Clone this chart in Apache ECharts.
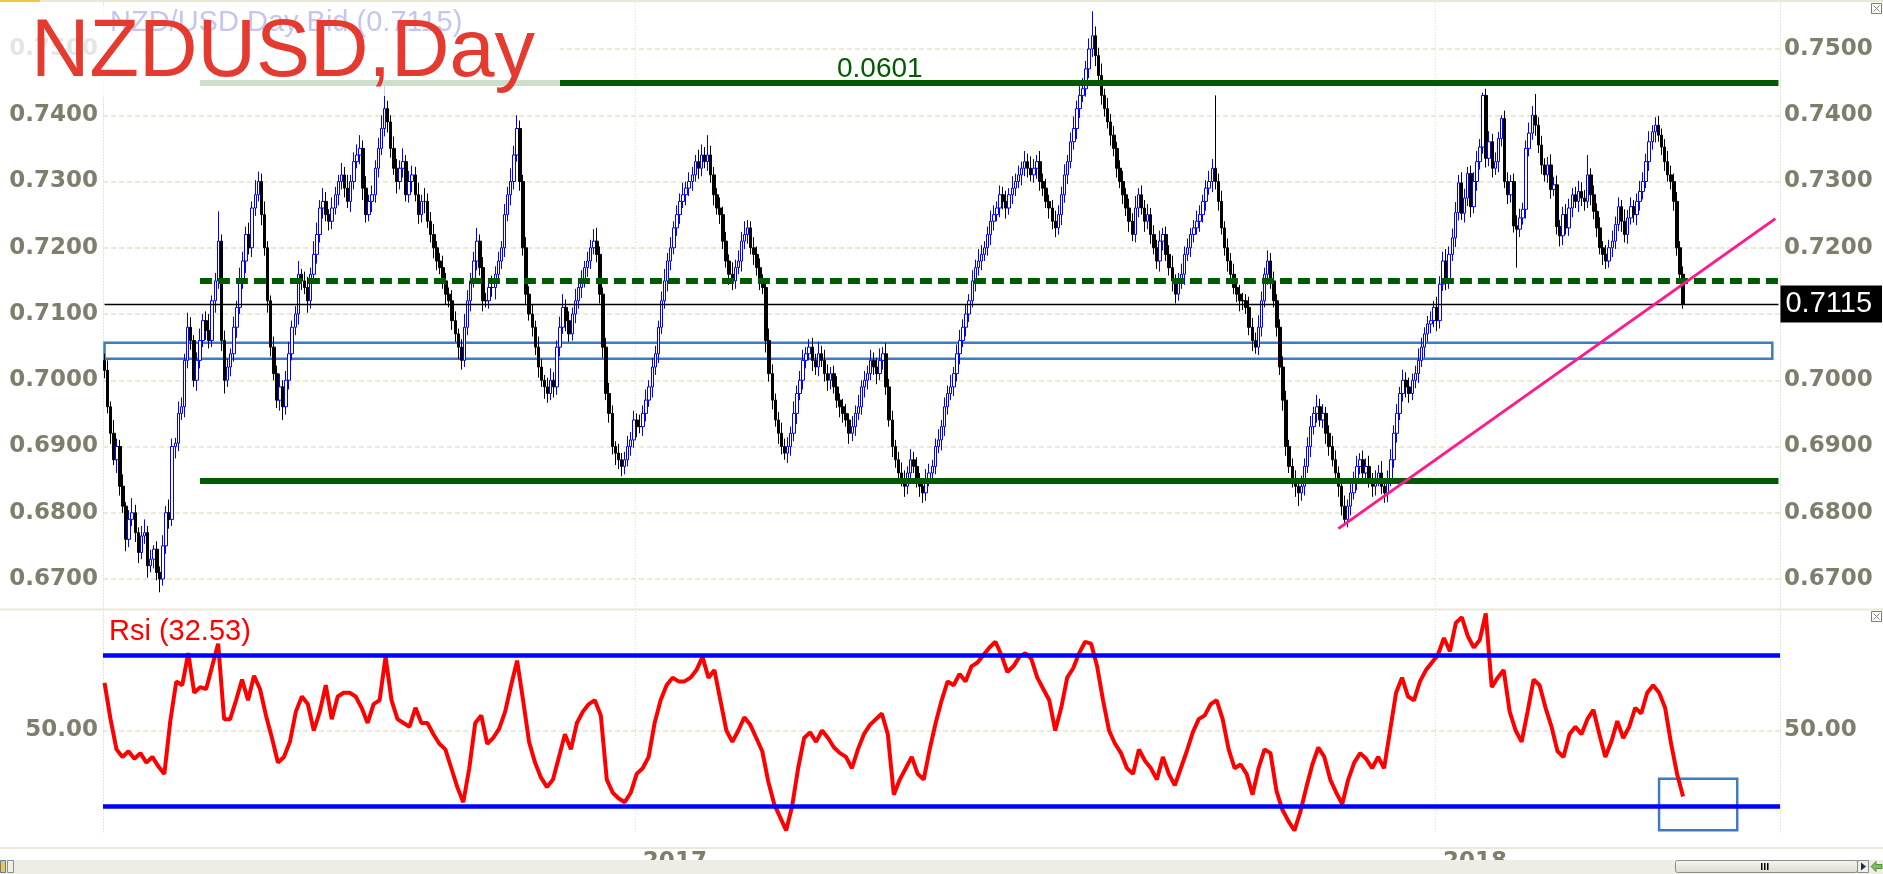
<!DOCTYPE html>
<html><head><meta charset="utf-8">
<script src="https://cdn.jsdelivr.net/npm/echarts@6/dist/echarts.min.js"></script>
<style>html,body{margin:0;padding:0;background:#fff;}#c{width:1883px;height:874px;}</style>
</head><body><div id="c"></div>
<script>
// Daily closes in pips (price x 10000)
const closes = [
7015,6960,6920,6880,6900,6840,6810,6760,6790,6800,
6770,6740,6765,6770,6720,6730,6745,6710,6700,6750,
6800,6790,6900,6905,6950,6960,7030,7080,7060,7000,
7030,7060,7090,7075,7060,7120,7150,7210,7060,7000,
7020,7040,7080,7110,7150,7180,7220,7200,7260,7280,
7300,7250,7200,7120,7050,7010,6970,6990,6960,7000,
7040,7080,7100,7160,7150,7140,7120,7160,7190,7220,
7260,7270,7250,7240,7260,7280,7300,7310,7290,7270,
7300,7330,7340,7350,7290,7250,7270,7280,7320,7350,
7380,7410,7390,7350,7320,7300,7320,7330,7280,7300,
7310,7280,7250,7270,7270,7240,7220,7200,7180,7170,
7150,7130,7120,7090,7070,7050,7030,7080,7120,7150,
7180,7210,7170,7120,7120,7140,7140,7160,7180,7200,
7250,7280,7300,7340,7380,7300,7200,7130,7100,7080,
7050,7020,7000,6990,6980,7000,6990,7050,7080,7110,
7090,7070,7100,7120,7140,7150,7170,7180,7200,7210,
7190,7130,7050,6980,6950,6900,6890,6880,6870,6880,
6900,6910,6940,6930,6930,6950,6970,6990,7020,7040,
7080,7120,7150,7180,7200,7230,7250,7270,7280,7290,
7300,7310,7330,7320,7340,7330,7340,7310,7280,7260,
7250,7210,7180,7160,7150,7170,7180,7210,7220,7230,
7200,7190,7170,7150,7140,7060,7010,6970,6940,6920,
6900,6890,6900,6920,6950,6980,7000,7030,7040,7050,
7030,7020,7040,7030,7010,7000,7010,6990,6970,6960,
6950,6940,6920,6930,6950,6960,6990,7000,7010,7030,
7020,7010,7030,7040,6990,6940,6900,6880,6860,6850,
6840,6860,6880,6870,6850,6840,6830,6850,6860,6870,
6900,6910,6930,6960,6980,6990,7010,7040,7060,7080,
7100,7120,7150,7170,7180,7190,7200,7220,7240,7250,
7260,7280,7270,7260,7280,7290,7300,7310,7320,7330,
7320,7310,7320,7330,7300,7290,7270,7260,7240,7230,
7250,7280,7310,7330,7360,7380,7410,7430,7440,7470,
7500,7520,7490,7460,7430,7410,7390,7370,7350,7320,
7300,7280,7260,7240,7220,7260,7280,7260,7240,7250,
7220,7200,7180,7210,7220,7190,7170,7150,7130,7150,
7160,7190,7200,7220,7230,7240,7250,7270,7290,7300,
7320,7300,7270,7230,7200,7180,7160,7140,7130,7120,
7120,7110,7080,7060,7050,7080,7120,7160,7180,7150,
7120,7080,7020,6970,6900,6870,6850,6840,6830,6840,
6870,6900,6930,6950,6960,6940,6950,6920,6900,6880,
6860,6840,6810,6790,6810,6830,6850,6870,6880,6860,
6870,6850,6840,6850,6860,6840,6830,6850,6880,6920,
6950,6980,7000,6990,6980,7000,7010,7030,7050,7070,
7085,7090,7110,7090,7145,7180,7150,7190,7215,7253,
7298,7252,7275,7312,7262,7300,7330,7352,7430,7335,
7360,7320,7330,7365,7395,7300,7280,7300,7233,7228,
7245,7258,7350,7373,7400,7385,7355,7325,7310,7325,
7288,7295,7232,7218,7250,7230,7260,7280,7270,7285,
7275,7270,7310,7280,7255,7230,7200,7190,7180,7200,
7210,7235,7262,7240,7220,7245,7262,7250,7270,7285,
7300,7330,7360,7375,7385,7370,7352,7330,7310,7300,
7270,7200,7160,7115
];
const firstOpen = 7030;
// upper / lower wick lengths in pips
const wickUp = [
10,15,8,20,12,10,18,6,14,22, 12,8,15,20,10,14,6,12,9,16, 10,20,12,8,18,14,10,22,15,8,
12,18,10,14,25,8,12,45,10,15, 12,8,16,10,20,14,12,18,10,22, 15,12,20,10,8,16,12,20,10,14,
18,10,12,20,8,14,16,10,20,18, 12,20,14,8,16,12,10,18,12,20, 10,14,16,20,12,18,10,14,12,16,
20,35,12,10,18,14,12,20,10,16, 14,12,18,10,20,12,14,16,10,12, 18,12,10,16,14,8,12,20,16,12,
14,20,10,16,12,8,18,12,14,10, 16,12,20,14,20,12,10,16,12,14, 10,16,12,8,14,18,12,10,16,20,
12,14,10,18,12,16,10,14,12,18, 20,12,10,14,16,12,8,14,10,12, 16,12,14,10,18,12,16,10,14,12,
10,14,18,12,16,10,14,12,18,10, 14,12,10,18,16,12,30,14,12,10, 16,12,14,10,18,12,16,14,20,12,
10,16,12,14,10,12,18,14,10,12, 16,12,14,10,18,12,14,16,10,12, 14,10,18,12,16,14,10,12,16,10,
12,14,10,16,12,18,10,14,12,16, 12,14,18,10,16,12,14,10,12,16, 14,10,16,12,14,10,12,16,14,10,
12,16,10,14,12,18,10,14,16,12, 14,10,16,12,18,14,10,12,16,14, 10,14,12,16,10,18,12,14,10,16,
12,18,14,10,16,12,14,10,12,16, 14,12,16,10,14,18,12,14,16,12, 16,37,14,12,18,10,16,12,14,10,
12,16,10,14,12,18,10,14,12,16, 10,14,12,16,10,12,14,18,10,12, 16,12,14,10,12,16,14,10,12,16,
14,110,12,16,10,14,12,16,10,14, 12,10,16,14,12,18,14,10,16,12, 14,10,12,16,14,10,12,14,10,16,
12,14,16,10,18,12,14,10,12,16, 14,10,12,16,10,14,12,16,10,14, 12,16,10,14,12,18,10,14,16,12,
14,10,16,12,14,10,12,18,14,10, 12,14,10,16,12,14,18,12,14,16, 12,16,14,10,12,14,16,12,4,10,
16,12,14,10,5,12,14,10,12,16, 14,10,12,16,14,32,12,14,10,12, 16,12,14,10,12,16,14,10,12,16,
14,12,30,10,14,12,16,10,14,12, 16,12,14,10,18,12,14,10,12,16, 14,12,16,10,12,14,10,12,16,14,
12,14,10,12
];
const wickDn = [
12,10,16,8,20,14,10,18,12,10, 14,16,10,12,18,10,14,12,20,10, 12,14,10,18,12,10,16,12,14,10,
16,12,10,14,12,10,18,12,16,20, 10,14,12,16,10,12,18,10,14,12, 10,16,12,18,14,10,12,16,20,12,
14,10,12,16,14,10,18,12,10,14, 12,16,10,14,12,10,16,12,14,10, 16,12,10,14,18,12,10,16,12,14,
10,12,16,14,10,18,12,14,10,12, 16,10,14,12,18,10,12,16,14,10, 12,16,10,14,12,18,14,10,12,16,
10,14,12,16,10,12,14,18,10,12, 14,10,16,12,10,14,12,16,10,14, 12,16,10,18,14,10,16,12,14,10,
16,12,10,14,12,16,10,14,12,10, 12,14,16,10,14,12,18,14,15,12, 10,14,12,16,10,14,12,10,16,12,
14,10,12,16,14,10,12,14,10,16, 12,14,10,16,12,10,14,12,16,10, 14,12,10,16,14,12,10,16,12,14,
10,16,12,14,10,18,12,14,10,16, 12,10,15,14,12,16,10,14,12,10, 16,12,14,10,12,16,14,10,12,16,
14,10,16,12,14,10,12,16,14,10, 12,16,10,14,12,10,16,12,14,10, 16,12,14,10,12,16,15,12,10,14,
12,10,16,14,12,10,14,12,16,10, 14,12,10,16,12,14,10,12,16,14, 10,14,12,16,10,14,12,10,16,12,
14,10,12,16,14,12,10,16,12,14, 10,16,12,14,10,12,16,14,10,12, 14,12,16,10,14,12,10,16,12,14,
10,14,12,16,10,12,14,10,16,12, 14,10,12,16,14,10,12,16,14,10, 12,16,10,14,12,10,16,12,14,10,
16,12,14,10,12,16,14,10,12,16, 14,10,12,16,10,12,14,10,16,12, 10,14,12,16,14,10,12,16,20,12,
14,10,16,12,14,10,12,16,14,10, 12,16,14,10,12,14,10,16,12,14, 10,12,16,14,10,12,15,14,10,12,
14,10,12,16,14,10,12,14,10,16, 12,14,10,16,12,10,14,12,10,14, 12,10,14,12,16,10,14,12,10,14,
12,14,10,16,12,10,14,12,10,58, 12,10,14,12,10,16,12,14,10,12, 14,10,12,16,14,10,12,14,10,16,
12,14,10,16,12,14,10,16,12,10, 14,12,10,16,12,14,10,12,16,14, 12,10,14,12,16,10,12,14,10,12,
14,12,10,7
];
const rsiValues = [
62.6,
53,45,43,44.5,42.5,44,41.5,43,40.5,38.5,
52.5,63,62,70.5,60,61.5,61,67,73,53,
53,58,63.5,58,64.5,61,54,48,41.5,43,
47,55,59,57,50,55,62,53,59,60,
60,59,56,52,57,58,69.5,58,53,52,
51,56,52,52,49,46.5,45,40,35,31,
40,52,54,46.5,48,50.5,55,62,68.5,58,
47,41.5,37.5,35,37,43,49,45,52,55,
57,58,54,37,33.5,32,31,33.5,38.5,40,
43,52,58,62,64,63,63,64,66,69.5,
64,66,58,50,47,50,53.5,51.5,48,44.5,
36.5,30.5,27,23.5,30,40,48,49.5,47,50,
48,45.5,44,43,40,45,49,51.5,53,54.5,
49,33,37,40,43,38.5,37,45,52,58,
63,62,65,63,67,68,70,72,73.5,70,
65.5,67,69.5,70.5,69,64,61,58,50,56,
64,66.5,70.5,73.5,73,67,58,50,46.5,44,
40,38.5,45,42,40,37,43,38.5,35.5,40,
44.5,49.5,53,54,57,58,53,45,40,41,
38.5,33,40,45,44,34,29,26,23.5,28.5,
35,41,45.5,43,37,33.5,30.5,37,41.5,44,
42.5,40,43,40,50,60,64,59,58,63,
66,68,70,74.5,71,78.5,80,75,72,74,
81,61.5,64,66,55,50,47,55,63.5,62,
56,51,44.5,43,49,51,49,53,55.5,49,
43,47,52.5,48,51,56,54.5,60,62,60,
56,46.5,38.5,32.5
];
const yearLabels = ['2017', '2018'];
const yearSlots = [173, 433];
const SLOTS = 545;
const priceMin = 0.67, priceMax = 0.75, priceStep = 0.01;
const rsiMin = 20, rsiMax = 80, rsiStep = 10;
const rsiBands = [70, 30];
const resistanceLevel = 0.7521;
const rangeTop = 0.7449;
const rangeBottom = 0.6848;
const supportLevel = 0.7150;
const lastPrice = 0.7115;
const levelStartSlot = 31;
const lastSlot = 544;
const trendStart = [401, 0.6776];
const trendEnd = [543, 0.7244];
const zoneBox = [[0, 0.70566], [542, 0.70324]];
const rsiBox = [[505.2, 37.2], [530.6, 23.6]];

const categories = Array.from({length: SLOTS}, (_, i) => String(i));
const candles = closes.map((c, i) => {
  const o = i === 0 ? firstOpen : closes[i - 1];
  const hi = Math.max(o, c) + wickUp[i];
  const lo = Math.min(o, c) - wickDn[i];
  return [o / 1e4, c / 1e4, lo / 1e4, hi / 1e4];
});
const rsiDx = (closes.length - 1) / (rsiValues.length - 1);
const rsiData = rsiValues.map((v, k) => [k * rsiDx, v]);

const axisFont = {fontFamily: 'DejaVu Sans', fontWeight: 'bold', fontSize: 23, color: '#7f7d6b'};
const dotted = {color: '#e2decd', type: [1, 2], width: 1};
const gridDash = {color: '#ece8da', type: [5, 3], width: 2};
const hidden = {axisLine: {show: false}, axisTick: {show: false}, axisLabel: {show: false}, splitLine: {show: false}};
const isYear = (i) => yearSlots.indexOf(i) >= 0;
const rsiLabel = (v) => v === 50 ? '50.00' : '';
const T = 'rgba(0,0,0,0)';

const chart = echarts.init(document.getElementById('c'), null, {renderer: 'canvas'});
const option = {
  animation: false,
  backgroundColor: '#ffffff',
  grid: [
    {left: 103, right: 103, top: 49, height: 530},
    {left: 103, right: 103, top: 2, height: 607},
    {left: 103, right: 103, top: 617.25, height: 226.5},
    {left: 103, right: 103, top: 612, height: 223}
  ],
  xAxis: [
    Object.assign({type: 'category', gridIndex: 0, data: categories, boundaryGap: true}, hidden),
    Object.assign({type: 'category', gridIndex: 1, data: categories, boundaryGap: true}, hidden,
      {splitLine: {show: true, interval: (i) => isYear(i), lineStyle: dotted}}),
    Object.assign({type: 'value', gridIndex: 2, min: -0.5, max: SLOTS - 0.5}, hidden),
    Object.assign({type: 'category', gridIndex: 3, data: categories, boundaryGap: true}, hidden, {
      splitLine: {show: true, interval: (i) => isYear(i), lineStyle: dotted},
      axisLabel: Object.assign({show: true, interval: (i) => isYear(i), margin: 19, align: 'left', padding: [0, 0, 0, 6],
        formatter: (v) => { const k = yearSlots.indexOf(Number(v)); return k >= 0 ? yearLabels[k] : ''; }}, axisFont)
    })
  ],
  yAxis: [
    {type: 'value', gridIndex: 0, position: 'left', min: priceMin, max: priceMax, interval: priceStep,
      axisLine: {show: false}, axisTick: {show: false},
      axisLabel: Object.assign({margin: 5, formatter: (v) => v.toFixed(4)}, axisFont),
      splitLine: {show: true, lineStyle: gridDash}},
    {type: 'value', gridIndex: 0, position: 'right', min: priceMin, max: priceMax, interval: priceStep,
      axisLine: {show: false}, axisTick: {show: false},
      axisLabel: Object.assign({margin: 4, formatter: (v) => v.toFixed(4)}, axisFont),
      splitLine: {show: false}},
    Object.assign({type: 'value', gridIndex: 1, position: 'left', min: 0, max: 1}, hidden, {axisLine: {show: true, lineStyle: dotted}}),
    Object.assign({type: 'value', gridIndex: 1, position: 'right', min: 0, max: 1}, hidden, {axisLine: {show: true, lineStyle: dotted}}),
    {type: 'value', gridIndex: 2, position: 'left', min: rsiMin, max: rsiMax, interval: rsiStep,
      axisLine: {show: false}, axisTick: {show: false},
      axisLabel: Object.assign({margin: 5, formatter: rsiLabel}, axisFont),
      splitLine: {show: true, lineStyle: {color: [T, T, T, '#ece8da', T, T, T], type: [5, 3], width: 2}}},
    {type: 'value', gridIndex: 2, position: 'right', min: rsiMin, max: rsiMax, interval: rsiStep,
      axisLine: {show: false}, axisTick: {show: false},
      axisLabel: Object.assign({margin: 4, formatter: rsiLabel}, axisFont),
      splitLine: {show: false}},
    Object.assign({type: 'value', gridIndex: 3, position: 'left', min: 0, max: 1}, hidden, {axisLine: {show: true, lineStyle: dotted}}),
    Object.assign({type: 'value', gridIndex: 3, position: 'right', min: 0, max: 1}, hidden, {axisLine: {show: true, lineStyle: dotted}})
  ],
  series: [
    {
      type: 'candlestick', xAxisIndex: 0, yAxisIndex: 0, data: candles, clip: false, barWidth: 3,
      itemStyle: {color: '#ffffff', color0: '#000000', borderColor: '#0000ff', borderColor0: '#000000', borderColorDoji: '#000000', borderWidth: 1},
      markLine: {
        silent: true, symbol: ['none', 'none'], label: {show: false}, animation: false,
        data: [
          [{coord: [0, resistanceLevel], lineStyle: {color: '#ff5a00', width: 4, type: [8, 7]}}, {coord: [lastSlot, resistanceLevel]}],
          [{coord: [levelStartSlot, rangeTop], lineStyle: {color: '#005a00', width: 6, type: 'solid'}}, {coord: [lastSlot, rangeTop]}],
          [{coord: [levelStartSlot, rangeBottom], lineStyle: {color: '#005a00', width: 6, type: 'solid'}}, {coord: [lastSlot, rangeBottom]}],
          [{coord: [levelStartSlot, supportLevel], lineStyle: {color: '#005a00', width: 6, type: [12, 6]}}, {coord: [lastSlot, supportLevel]}],
          [{coord: [0, lastPrice], lineStyle: {color: '#000000', width: 1.3, type: 'solid'},
            label: {show: true, position: 'end', distance: 2, formatter: lastPrice.toFixed(4), color: '#ffffff', backgroundColor: '#000000',
              fontFamily: 'Liberation Sans', fontSize: 29, lineHeight: 29, padding: [4, 10, 4, 5]}},
           {coord: [lastSlot, lastPrice]}],
          [{coord: trendStart, lineStyle: {color: '#ff1a8c', width: 3, type: 'solid'}}, {coord: trendEnd}]
        ]
      },
      markArea: {
        silent: true, label: {show: false},
        itemStyle: {color: T, borderColor: '#3d7cc0', borderWidth: 2.5},
        data: [[{coord: zoneBox[0]}, {coord: zoneBox[1]}]]
      }
    },
    {
      type: 'line', xAxisIndex: 2, yAxisIndex: 4, data: rsiData, showSymbol: false, symbol: 'none', clip: false,
      lineStyle: {color: '#ff0000', width: 4}, z: 3,
      markLine: {
        silent: true, symbol: ['none', 'none'], label: {show: false},
        lineStyle: {color: '#0000ff', width: 4.5, type: 'solid'},
        data: rsiBands.map((b) => ({yAxis: b}))
      },
      markArea: {
        silent: true, label: {show: false},
        itemStyle: {color: T, borderColor: '#3d7cc0', borderWidth: 2.5},
        data: [[{coord: rsiBox[0]}, {coord: rsiBox[1]}]]
      }
    }
  ],
  graphic: [
    {type: 'rect', z: 1, shape: {x: 0, y: 0, width: 1883, height: 2}, style: {fill: '#ebe8da'}},
    {type: 'rect', z: 1, shape: {x: 0, y: 0, width: 40, height: 2}, style: {fill: '#f2c447'}},
    {type: 'rect', z: 1, shape: {x: 0, y: 608.5, width: 1883, height: 2}, style: {fill: '#ebe8da'}},
    {type: 'rect', z: 1, shape: {x: 0, y: 847, width: 1883, height: 2}, style: {fill: '#ebe8da'}},
    {type: 'rect', z: 50, shape: {x: 0, y: 6, width: 560, height: 90}, style: {fill: 'rgba(255,255,255,0.8)'}},
    {type: 'text', z: 60, style: {x: 110, y: 23, text: 'NZD/USD Day Bid (' + lastPrice.toFixed(4) + ')', font: '29px "Liberation Sans"', fill: '#c5c5ee', verticalAlign: 'middle'}},
    {type: 'text', z: 61, style: {x: 31, y: 54, text: 'NZDUSD,Day', font: '81px "Liberation Sans"', fill: '#e53a2f', verticalAlign: 'middle'}},
    {type: 'text', z: 60, style: {x: 837, y: 69, text: (rangeTop - rangeBottom).toFixed(4), font: '28px "Liberation Sans"', fill: '#005a00', verticalAlign: 'middle'}},
    {type: 'text', z: 60, style: {x: 109, y: 632, text: 'Rsi (32.53)', font: '29px "Liberation Sans"', fill: '#ff0000', verticalAlign: 'middle'}},
    {type: 'rect', z: 60, shape: {x: 1871.5, y: 3.5, width: 10, height: 10}, style: {fill: '#fff', stroke: '#7d7d72', lineWidth: 1}},
    {type: 'polyline', z: 61, shape: {points: [[1873.5, 5.5], [1879.5, 11.5]]}, style: {stroke: '#7d7d72', lineWidth: 1}},
    {type: 'polyline', z: 61, shape: {points: [[1879.5, 5.5], [1873.5, 11.5]]}, style: {stroke: '#7d7d72', lineWidth: 1}},
    {type: 'rect', z: 60, shape: {x: 1871.5, y: 611.5, width: 10, height: 10}, style: {fill: '#fff', stroke: '#7d7d72', lineWidth: 1}},
    {type: 'polyline', z: 61, shape: {points: [[1873.5, 613.5], [1879.5, 619.5]]}, style: {stroke: '#7d7d72', lineWidth: 1}},
    {type: 'polyline', z: 61, shape: {points: [[1879.5, 613.5], [1873.5, 619.5]]}, style: {stroke: '#7d7d72', lineWidth: 1}},
    {type: 'rect', z: 70, shape: {x: 0, y: 860, width: 1883, height: 14}, style: {fill: '#edece5'}},
    {type: 'rect', z: 71, shape: {x: 1675.5, y: 860.5, width: 182, height: 12, r: 2},
      style: {fill: new echarts.graphic.LinearGradient(0, 0, 0, 1, [{offset: 0, color: '#f7f6f1'}, {offset: 1, color: '#dcdad0'}]), stroke: '#8e8e88', lineWidth: 1}},
    {type: 'rect', z: 72, shape: {x: 1761, y: 863, width: 1.5, height: 7}, style: {fill: '#000'}},
    {type: 'rect', z: 72, shape: {x: 1764, y: 863, width: 1.5, height: 7}, style: {fill: '#000'}},
    {type: 'rect', z: 72, shape: {x: 1767, y: 863, width: 1.5, height: 7}, style: {fill: '#000'}},
    {type: 'rect', z: 71, shape: {x: 1857.5, y: 860.5, width: 11, height: 12}, style: {fill: '#eeeeea', stroke: '#8e8e88', lineWidth: 1}},
    {type: 'polygon', z: 72, shape: {points: [[1861, 862.5], [1861, 870.5], [1866, 866.5]]}, style: {fill: '#1f2f3f'}},
    {type: 'polygon', z: 72, shape: {points: [[1871, 866.5], [1876, 861.5], [1876, 864.5], [1882, 864.5], [1882, 868.5], [1876, 868.5], [1876, 871.5]]}, style: {fill: '#7cc05a', stroke: '#3f7a2a', lineWidth: 0.8}},
    {type: 'rect', z: 71, shape: {x: 0.5, y: 860.5, width: 5, height: 12}, style: {fill: '#f3c640', stroke: '#5b7fb5', lineWidth: 1}},
    {type: 'rect', z: 71, shape: {x: 7.5, y: 860.5, width: 6, height: 12}, style: {fill: '#eeeeea', stroke: '#8e8e88', lineWidth: 1}}
  ]
};
chart.setOption(option);
</script>
</body></html>
